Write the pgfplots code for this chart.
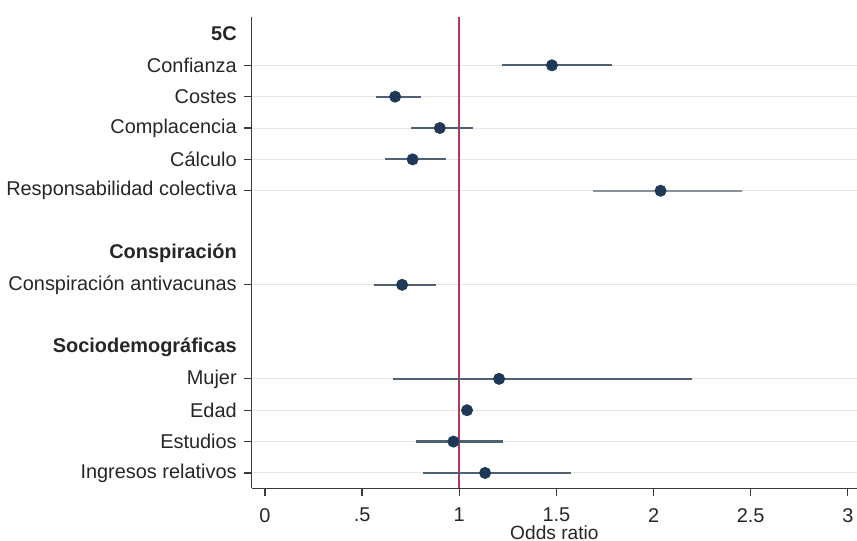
\documentclass[border=0pt]{standalone}
\usepackage{pgfplots}
\pgfplotsset{compat=1.18}
\usepackage{pgfplotstable}
\usepackage{fontspec}
\setmainfont{Liberation Sans}
\definecolor{cicol}{HTML}{4F6072}
\definecolor{cilight}{HTML}{8C929A}
\definecolor{ptcol}{HTML}{1E3958}
\definecolor{refcol}{HTML}{B0385A}
\definecolor{gridcol}{HTML}{E6E6E6}
\definecolor{axcol}{HTML}{3A3A3A}

\pgfplotstableread{
row or lo hi
2 1.477 1.22 1.786
3 0.67 0.57 0.805
4 0.90 0.75 1.07
5 0.76 0.62 0.93
9 0.706 0.56 0.88
12 1.205 0.66 2.20
13 1.04 1.02 1.06
14 0.97 0.775 1.225
15 1.133 0.815 1.574
}\maindata
\pgfplotstableread{
row or lo hi
6 2.036 1.687 2.456
}\lightdata

\begin{document}
\begin{tikzpicture}
\useasboundingbox (-126.3pt,-26.4pt) rectangle (303.7pt,245.0pt);
\begin{axis}[
  at={(0pt,0pt)}, anchor=south west,
  scale only axis,
  width=303.7pt, height=236.5pt,
  xmin=-0.068, xmax=3.047,
  ymin=0.458, ymax=15.49,
  y dir=reverse,
  axis x line*=bottom, axis y line*=left,
  axis line style={axcol, line width=0.7pt},
  every tick/.style={axcol, line width=0.6pt},
  tick align=outside,
  major tick length=4pt,
  xtick={0,0.5,1,1.5,2,2.5,3},
  xticklabels={0,.5,1,1.5,2,2.5,3},
  xticklabel style={inner sep=0.5pt, yshift=-5.3pt},
  ytick={2,3,4,5,6,9,12,13,14,15},
  yticklabels={Confianza,Costes,Complacencia,Cálculo,Responsabilidad colectiva,Conspiración antivacunas,Mujer,Edad,Estudios,Ingresos relativos},
  extra y ticks={1,8,11},
  extra y tick labels={\textbf{5C},\textbf{Conspiración},\textbf{Sociodemográficas}},
  extra y tick style={grid=none, major tick style={draw=none}},
  ymajorgrids,
  major grid style={gridcol, line width=0.5pt},
  tick label style={font=\fontsize{10}{12}\selectfont, text=black!85},
  /pgf/number format/assume math mode=true,
  xlabel={Odds ratio},
  xlabel style={font=\fontsize{9.6}{11}\selectfont, text=black!85, inner sep=0.5pt, yshift=-0.5pt},
  clip=false,
]
\addplot[refcol, line width=1pt] coordinates {(1,0.458) (1,15.49)};
\addplot[draw=none, mark=none, error bars/.cd, x dir=both, x explicit, error mark=none,
  error bar style={cicol, line width=1.1pt}]
  table[x=or, y=row, x error plus expr=\thisrow{hi}-\thisrow{or}, x error minus expr=\thisrow{or}-\thisrow{lo}] {\maindata};
\addplot[draw=none, mark=none, error bars/.cd, x dir=both, x explicit, error mark=none,
  error bar style={cilight, line width=1.1pt}]
  table[x=or, y=row, x error plus expr=\thisrow{hi}-\thisrow{or}, x error minus expr=\thisrow{or}-\thisrow{lo}] {\lightdata};
\addplot[only marks, mark=*, mark size=2.8pt, mark options={fill=ptcol, draw=ptcol}]
  table[x=or, y=row] {\maindata};
\addplot[only marks, mark=*, mark size=2.8pt, mark options={fill=ptcol, draw=ptcol}]
  table[x=or, y=row] {\lightdata};
\end{axis}
\end{tikzpicture}
\end{document}
